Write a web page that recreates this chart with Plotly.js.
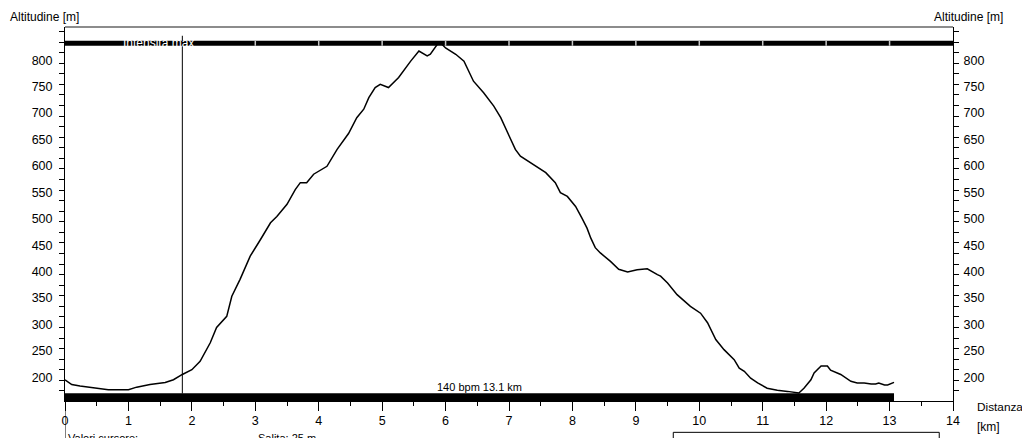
<!DOCTYPE html>
<html>
<head>
<meta charset="utf-8">
<script src="https://cdn.plot.ly/plotly-3.0.1.min.js"></script>
<style>html,body{margin:0;padding:0;background:#fff;}#chart{width:1022px;height:438px;}</style>
</head>
<body>
<div id="chart"></div>
<script>
// ---- data ----
const distanceKm = [0,0.106,0.237,0.50,0.683,1.0,1.13,1.34,1.58,1.71,1.85,2.0,2.13,2.29,2.39,2.55,2.63,2.76,2.92,3.08,3.24,3.34,3.50,3.63,3.71,3.81,3.92,4.13,4.23,4.29,4.47,4.60,4.71,4.79,4.89,4.97,5.10,5.26,5.45,5.58,5.71,5.76,5.87,5.92,6.0,6.16,6.29,6.44,6.60,6.76,6.87,7.02,7.10,7.18,7.26,7.42,7.58,7.73,7.81,7.92,8.05,8.15,8.23,8.29,8.36,8.44,8.60,8.73,8.87,9.02,9.18,9.34,9.39,9.50,9.65,9.86,10.02,10.13,10.26,10.39,10.55,10.63,10.71,10.81,10.92,11.07,11.23,11.39,11.57,11.65,11.76,11.81,11.92,12.02,12.07,12.23,12.39,12.49,12.60,12.71,12.78,12.83,12.92,12.97,13.07];
const altitudeM = [201,192,189,185,182,182,187,192,196,201,211,220,236,271,300,321,359,391,435,466,498,510,533,561,574,574,590,605,624,637,667,697,713,735,754,760,754,773,804,823,814,817,836,839,829,817,804,766,744,719,697,656,637,624,618,605,593,574,555,548,529,507,488,469,451,441,425,410,405,409,411,400,397,384,362,340,327,309,277,258,239,223,217,204,195,185,181,179,176,185,201,214,227,227,219,211,198,195,195,193,193,195,191,191,196];
const yLabelVals = [200,250,300,350,400,450,500,550,600,650,700,750,800];
const intensityMarksKm = [3,4,5,6,7,8,9,10,11,12,13];
const cursorKm = [1.85];
const totalKm = [13.07];
const intensityText = ['Intensità max'];
const heartRateText = ['140 bpm 13.1 km'];
const cursorTexts = ['Valori cursore:', 'Salita: 25 m'];

const FONT = 'Liberation Sans, Arial, Helvetica, sans-serif';
const YR = [160.8, 868.6];

const traces = [
  {x: distanceKm, y: altitudeM, type:'scatter', mode:'lines', line:{color:'#000', width:1.5}, hoverinfo:'skip', yaxis:'y'},
  {x: [], y: [], type:'scatter', mode:'lines', yaxis:'y2', hoverinfo:'skip'},
  {x: [], y: [], type:'scatter', mode:'lines', yaxis:'y3', hoverinfo:'skip'},
  {x: [], y: [], type:'scatter', mode:'lines', yaxis:'y4', hoverinfo:'skip'}
];

const labelAxis = (side) => ({
  range: YR, side: side, tickmode:'array', tickvals: yLabelVals,
  ticks:'outside', ticklen:5, tickcolor:'rgba(0,0,0,0)',
  showline:true, linecolor:'#000', linewidth:1, showgrid:false, zeroline:false,
  ticklabelshift:-3, ticklabelstandoff: side === 'left' ? 4 : 2,
  tickfont:{size:12.5, family:FONT, color:'#000'}, fixedrange:true
});
const tickAxis = (side) => ({
  range: YR, side: side, overlaying:'y', anchor:'x', tickmode:'linear', tick0:0, dtick:20,
  ticks:'outside', ticklen:5, tickwidth:1, tickcolor:'#000', showticklabels:false,
  showline:false, showgrid:false, zeroline:false, fixedrange:true
});

const y2 = labelAxis('right'); y2.overlaying = 'y'; y2.anchor = 'x';

const shapes = [
  {type:'line', xref:'paper', yref:'paper', x0:0, x1:1, y0:1, y1:1, line:{color:'#8c8c8c', width:2}},
  {type:'rect', xref:'x', yref:'y', x0:0, x1:14, y0:833.1, y1:842.6, fillcolor:'#000', line:{width:0}, layer:'above'},
  {type:'rect', xref:'x', yref:'y', x0:0, x1:totalKm[0], y0:160.8, y1:175.4, fillcolor:'#000', line:{width:0}, layer:'above'},
  {type:'line', xref:'x', yref:'y', x0:cursorKm[0], x1:cursorKm[0], y0:175, y1:852, line:{color:'#000', width:1}},
  {type:'line', xref:'x', yref:'paper', x0:0, x1:0, y0:0, y1:-0.12, line:{color:'#000', width:1}},
  {type:'rect', xref:'paper', yref:'paper', x0:0.685, x1:0.9845, y0:-0.0838, y1:-0.2, line:{color:'#000', width:1}, fillcolor:'rgba(0,0,0,0)'}
];
intensityMarksKm.forEach(k => shapes.push({type:'line', xref:'x', yref:'y', x0:k, x1:k, y0:833.1, y1:842.6, line:{color:'#c8c8c8', width:1.5}, layer:'above'}));

const annotations = [
  {text:'Altitudine [m]', xref:'paper', yref:'paper', x:-0.064, y:1.0276, xanchor:'left', yanchor:'middle', showarrow:false, font:{size:12, family:FONT, color:'#000'}},
  {text:'Altitudine [m]', xref:'paper', yref:'paper', x:1.059, y:1.0276, xanchor:'right', yanchor:'middle', showarrow:false, font:{size:12, family:FONT, color:'#000'}},
  {text:'Distanza', xref:'paper', yref:'paper', x:1.0245, y:-0.0153, xanchor:'left', yanchor:'middle', showarrow:false, font:{size:11.8, family:FONT, color:'#000'}},
  {text:'[km]', xref:'paper', yref:'paper', x:1.0245, y:-0.0696, xanchor:'left', yanchor:'middle', showarrow:false, font:{size:12, family:FONT, color:'#000'}},
  {text:cursorTexts[0], xref:'paper', yref:'paper', x:0.001, y:-0.078, xanchor:'left', yanchor:'top', showarrow:false, font:{size:11, family:FONT, color:'#000'}},
  {text:cursorTexts[1], xref:'paper', yref:'paper', x:0.2152, y:-0.078, xanchor:'left', yanchor:'top', showarrow:false, font:{size:11, family:FONT, color:'#000'}},
  {text:intensityText[0], xref:'x', yref:'y', x:1.48, y:837.9, xanchor:'center', yanchor:'middle', showarrow:false, font:{size:12, family:FONT, color:'#fff'}},
  {text:heartRateText[0], xref:'x', yref:'y', x:totalKm[0]/2, y:186.7, xanchor:'center', yanchor:'middle', showarrow:false, font:{size:11, family:FONT, color:'#000'}}
];

const layout = {
  width:1022, height:438,
  margin:{l:65, r:69.3, t:27.3, b:37, pad:0},
  paper_bgcolor:'#fff', plot_bgcolor:'#fff',
  font:{family:FONT, size:12, color:'#000'},
  showlegend:false,
  xaxis:{range:[0,14], tickmode:'linear', tick0:0, dtick:1, ticks:'outside', ticklen:9, tickwidth:1, tickcolor:'#000',
         showline:true, linecolor:'#000', linewidth:1, showgrid:false, zeroline:false,
         minor:{tickmode:'linear', tick0:0, dtick:0.5, ticks:'outside', ticklen:4, tickcolor:'#000', tickwidth:1, showgrid:false},
         ticklabelstandoff:-1,
         tickfont:{size:12.5, family:FONT, color:'#000'}, fixedrange:true},
  yaxis: labelAxis('left'),
  yaxis2: y2,
  yaxis3: tickAxis('left'),
  yaxis4: tickAxis('right'),
  shapes: shapes,
  annotations: annotations
};

Plotly.newPlot('chart', traces, layout, {displayModeBar:false, staticPlot:true});
</script>
</body>
</html>
